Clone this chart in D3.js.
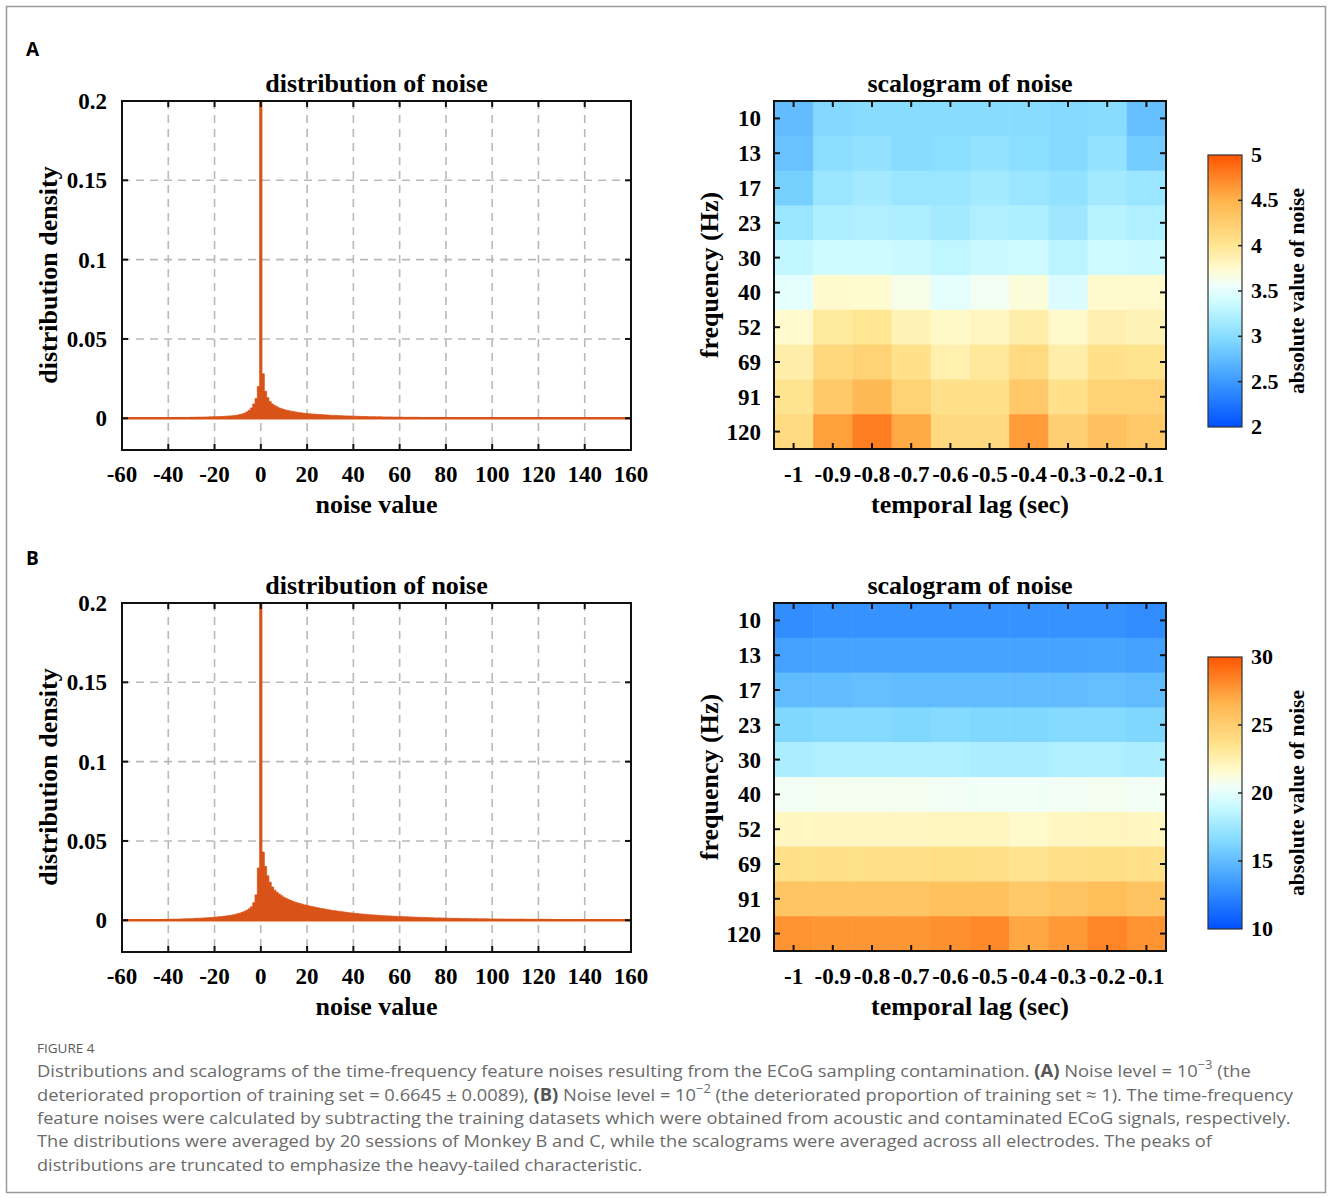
<!DOCTYPE html>
<html>
<head>
<meta charset="utf-8">
<script src="https://cdn.jsdelivr.net/npm/d3@7/dist/d3.min.js"></script>
<style>
body{margin:0;background:#fff;}
.serif{font-family:"Liberation Serif","Times New Roman",serif;font-weight:bold;fill:#000;}
</style>
</head>
<body>
<svg id="fig" width="1328" height="1198"></svg>
<script>
// histogram bins, width 1, centred on integers -60 .. 160
var binStart = -60;
var densityA = [
0.0002,0.0002,0.0002,0.0002,0.0002,0.0002,0.0002,0.0002,0.0002,0.0002,
0.0002,0.0002,0.0003,0.0003,0.0003,0.0003,0.0003,0.0003,0.0003,0.0003,
0.0004,0.0004,0.0004,0.0004,0.0004,0.0005,0.0005,0.0005,0.0005,0.0005,
0.0006,0.0006,0.0006,0.0007,0.0007,0.0007,0.0008,0.0008,0.0009,0.0009,
0.0010,0.0010,0.0011,0.0011,0.0012,0.0013,0.0014,0.0015,0.0016,0.0018,
0.0020,0.0023,0.0027,0.0032,0.0040,0.0050,0.0065,0.0090,0.0125,0.0200,
0.2000,
0.0280,0.0170,0.0130,0.0105,0.0090,0.0080,0.0072,0.0065,0.0060,0.0055,
0.0051,0.0048,0.0045,0.0042,0.0040,0.0037,0.0035,0.0033,0.0031,0.0030,
0.0028,0.0027,0.0026,0.0025,0.0024,0.0023,0.0022,0.0021,0.0020,0.0019,
0.0018,0.0018,0.0017,0.0016,0.0016,0.0015,0.0015,0.0014,0.0014,0.0013,
0.0013,0.0012,0.0012,0.0011,0.0011,0.0011,0.0010,0.0010,0.0010,0.0009,
0.0009,0.0009,0.0008,0.0008,0.0008,0.0008,0.0007,0.0007,0.0007,0.0007,
0.0007,0.0006,0.0006,0.0006,0.0006,0.0006,0.0006,0.0006,0.0005,0.0005,
0.0005,0.0005,0.0005,0.0005,0.0005,0.0005,0.0005,0.0005,0.0005,0.0005,
0.0005,0.0005,0.0004,0.0004,0.0004,0.0004,0.0004,0.0004,0.0004,0.0004,
0.0004,0.0004,0.0004,0.0004,0.0004,0.0004,0.0004,0.0004,0.0004,0.0004,
0.0004,0.0004,0.0004,0.0004,0.0004,0.0003,0.0003,0.0003,0.0003,0.0003,
0.0003,0.0003,0.0003,0.0003,0.0003,0.0003,0.0003,0.0003,0.0003,0.0003,
0.0003,0.0003,0.0003,0.0003,0.0003,0.0003,0.0003,0.0003,0.0003,0.0003,
0.0003,0.0003,0.0003,0.0003,0.0003,0.0002,0.0002,0.0002,0.0002,0.0002,
0.0002,0.0002,0.0002,0.0002,0.0002,0.0002,0.0002,0.0002,0.0002,0.0002,
0.0002,0.0002,0.0002,0.0002,0.0002,0.0002,0.0002,0.0002,0.0002,0.0002
];
var densityB = [
0.0002,0.0002,0.0002,0.0002,0.0002,0.0003,0.0003,0.0003,0.0003,0.0003,
0.0003,0.0003,0.0004,0.0004,0.0004,0.0004,0.0005,0.0005,0.0005,0.0006,
0.0006,0.0006,0.0007,0.0007,0.0007,0.0008,0.0008,0.0009,0.0009,0.0010,
0.0010,0.0011,0.0012,0.0012,0.0013,0.0014,0.0015,0.0016,0.0017,0.0018,
0.0019,0.0020,0.0022,0.0023,0.0025,0.0027,0.0029,0.0031,0.0034,0.0037,
0.0041,0.0045,0.0050,0.0056,0.0063,0.0072,0.0085,0.0110,0.0160,0.0330,
0.2000,
0.0430,0.0340,0.0280,0.0240,0.0210,0.0190,0.0177,0.0165,0.0155,0.0145,
0.0138,0.0131,0.0125,0.0119,0.0114,0.0109,0.0105,0.0101,0.0097,0.0094,
0.0090,0.0087,0.0084,0.0081,0.0078,0.0075,0.0072,0.0070,0.0067,0.0064,
0.0062,0.0060,0.0058,0.0056,0.0054,0.0052,0.0050,0.0048,0.0046,0.0045,
0.0043,0.0042,0.0040,0.0039,0.0038,0.0036,0.0035,0.0034,0.0033,0.0032,
0.0031,0.0030,0.0029,0.0028,0.0027,0.0027,0.0026,0.0025,0.0024,0.0024,
0.0023,0.0022,0.0022,0.0021,0.0020,0.0020,0.0019,0.0019,0.0018,0.0018,
0.0017,0.0017,0.0016,0.0016,0.0015,0.0015,0.0015,0.0014,0.0014,0.0013,
0.0013,0.0013,0.0012,0.0012,0.0012,0.0011,0.0011,0.0011,0.0011,0.0010,
0.0010,0.0010,0.0010,0.0009,0.0009,0.0009,0.0009,0.0009,0.0008,0.0008,
0.0008,0.0008,0.0008,0.0008,0.0008,0.0007,0.0007,0.0007,0.0007,0.0007,
0.0007,0.0007,0.0007,0.0007,0.0006,0.0006,0.0006,0.0006,0.0006,0.0006,
0.0006,0.0006,0.0006,0.0006,0.0006,0.0005,0.0005,0.0005,0.0005,0.0005,
0.0005,0.0005,0.0005,0.0005,0.0005,0.0005,0.0005,0.0005,0.0005,0.0005,
0.0004,0.0004,0.0004,0.0004,0.0004,0.0004,0.0004,0.0004,0.0004,0.0004,
0.0004,0.0004,0.0004,0.0004,0.0004,0.0003,0.0003,0.0003,0.0003,0.0003
];
var histXTicks = [-60,-40,-20,0,20,40,60,80,100,120,140,160];
var histYTicks = [0,0.05,0.1,0.15,0.2];
var histYLabels = ["0","0.05","0.1","0.15","0.2"];

var freqLabels = ["10","13","17","23","30","40","52","69","91","120"];
var lagLabels = ["-1","-0.9","-0.8","-0.7","-0.6","-0.5","-0.4","-0.3","-0.2","-0.1"];

// rows = frequency (10 Hz first), cols = lag (-1 first)
var scaloA = [
[2.75,2.97,3.00,3.00,3.00,3.00,3.00,2.98,3.00,2.78],
[2.80,3.02,3.05,3.00,3.01,3.06,3.01,2.98,3.06,2.88],
[2.90,3.10,3.15,3.10,3.10,3.15,3.10,3.05,3.15,3.10],
[3.10,3.20,3.22,3.20,3.15,3.22,3.20,3.12,3.25,3.22],
[3.32,3.38,3.38,3.36,3.30,3.36,3.37,3.28,3.37,3.36],
[3.50,3.75,3.74,3.65,3.50,3.60,3.70,3.45,3.75,3.75],
[3.75,3.95,4.00,3.85,3.78,3.80,3.90,3.76,3.87,3.85],
[3.90,4.15,4.20,4.05,3.88,3.97,4.12,3.90,4.05,4.02],
[4.02,4.30,4.45,4.20,4.05,4.05,4.30,4.05,4.20,4.20],
[4.12,4.60,4.78,4.55,4.13,4.13,4.63,4.22,4.37,4.30]
];
var scaloB = [
[12.8,13.0,13.0,13.0,13.0,13.0,13.0,13.0,13.0,12.7],
[13.7,13.8,13.8,13.8,13.8,13.8,13.8,13.8,13.9,13.7],
[15.0,15.0,15.1,15.0,15.0,15.0,15.0,15.0,15.1,15.0],
[16.4,16.5,16.5,16.4,16.5,16.4,16.4,16.5,16.5,16.3],
[18.0,18.1,18.2,18.1,18.1,18.0,18.0,18.1,18.1,18.0],
[20.6,20.7,20.7,20.7,20.6,20.5,20.5,20.6,20.7,20.6],
[22.0,22.0,22.0,22.0,22.1,22.1,21.7,22.0,22.1,22.0],
[23.7,23.7,23.7,23.7,23.9,23.8,23.5,23.8,23.9,23.7],
[25.6,25.6,25.6,25.6,25.8,25.8,25.3,25.7,26.0,25.7],
[27.8,27.7,27.7,27.7,27.9,28.2,27.1,27.6,28.3,27.8]
];
var cbarTicksA = [2,2.5,3,3.5,4,4.5,5];
var cbarLabelsA = ["2","2.5","3","3.5","4","4.5","5"];
var cbarTicksB = [10,15,20,25,30];
var cbarLabelsB = ["10","15","20","25","30"];

// colormap blue -> white -> orange
var cmapStops = [0,0.17,0.33,0.45,0.52,0.58,0.67,0.83,1];
var cmapColors = ["#0050ff","#3d9bff","#86dcff","#c8faff","#effffc","#fffbd0","#ffe590","#ffb54e","#ff5500"];

var histColor = "#d95319";
var gridColor = "#b9b9b9";
var tickFont = "23px", labelFont = "26px";

var svg = d3.select("#fig");
svg.append("rect").attr("x",6.5).attr("y",6.5).attr("width",1319).attr("height",1186)
   .attr("fill","#fff").attr("stroke","#9a9a9a").attr("stroke-width",1.5);

function drawHist(dy, density, id){
    var left = 122, right = 631, top = 101 + dy, bottom = 450 + dy;
    var x = d3.scaleLinear().domain([-60,160]).range([left,right]);
    var y = d3.scaleLinear().domain([-0.02,0.2]).range([bottom,top]);
    var g = svg.append("g");

    g.append("clipPath").attr("id",id).append("rect")
        .attr("x",left).attr("y",top).attr("width",right-left).attr("height",bottom-top);

    // dashed grid
    g.selectAll(".vg").data(histXTicks.slice(1,-1)).enter().append("line")
        .attr("x1",function(d){return x(d);}).attr("x2",function(d){return x(d);})
        .attr("y1",top).attr("y2",bottom)
        .attr("stroke",gridColor).attr("stroke-width",1.6).attr("stroke-dasharray","8,6");
    g.selectAll(".hg").data(histYTicks.slice(0,-1)).enter().append("line")
        .attr("x1",left).attr("x2",right)
        .attr("y1",function(d){return y(d);}).attr("y2",function(d){return y(d);})
        .attr("stroke",gridColor).attr("stroke-width",1.6).attr("stroke-dasharray","8,6");

    var pts = density.map(function(v,i){ return {e: binStart + i - 0.5, v: v}; });
    pts.push({e: binStart + density.length - 0.5, v: density[density.length-1]});
    var area = d3.area().curve(d3.curveStepAfter)
        .x(function(d){return x(d.e);}).y0(y(0)).y1(function(d){return y(d.v);});
    g.append("path").datum(pts).attr("d",area).attr("fill",histColor)
        .attr("stroke",histColor).attr("stroke-width",0.8)
        .attr("clip-path","url(#"+id+")");
    g.append("line").attr("x1",left).attr("x2",right).attr("y1",y(0)).attr("y2",y(0))
        .attr("stroke",histColor).attr("stroke-width",2.5);

    // box + inward ticks
    g.append("rect").attr("x",left).attr("y",top).attr("width",right-left).attr("height",bottom-top)
        .attr("fill","none").attr("stroke","#111").attr("stroke-width",2);
    histXTicks.forEach(function(t){
        g.append("line").attr("x1",x(t)).attr("x2",x(t)).attr("y1",top).attr("y2",top+6).attr("stroke","#111").attr("stroke-width",2);
        g.append("line").attr("x1",x(t)).attr("x2",x(t)).attr("y1",bottom).attr("y2",bottom-6).attr("stroke","#111").attr("stroke-width",2);
    });
    histYTicks.forEach(function(t){
        g.append("line").attr("x1",left).attr("x2",left+6).attr("y1",y(t)).attr("y2",y(t)).attr("stroke","#111").attr("stroke-width",2);
        g.append("line").attr("x1",right).attr("x2",right-6).attr("y1",y(t)).attr("y2",y(t)).attr("stroke","#111").attr("stroke-width",2);
    });

    g.selectAll(".xl").data(histXTicks).enter().append("text").attr("class","serif")
        .attr("x",function(d){return x(d);}).attr("y",bottom+32).attr("text-anchor","middle")
        .style("font-size",tickFont).text(function(d){return d;});
    g.selectAll(".yl").data(histYTicks).enter().append("text").attr("class","serif")
        .attr("x",107).attr("y",function(d){return y(d)+8;}).attr("text-anchor","end")
        .style("font-size",tickFont).text(function(d,i){return histYLabels[i];});

    g.append("text").attr("class","serif").attr("x",(left+right)/2).attr("y",top-9)
        .attr("text-anchor","middle").style("font-size",labelFont).text("distribution of noise");
    g.append("text").attr("class","serif").attr("x",(left+right)/2).attr("y",bottom+63)
        .attr("text-anchor","middle").style("font-size",labelFont).text("noise value");
    g.append("text").attr("class","serif").attr("transform","translate(57,"+(275+dy)+") rotate(-90)")
        .attr("text-anchor","middle").style("font-size",labelFont).text("distribution density");
}

function drawScalogram(dy, values, domain, ticks, tickLabels){
    var left = 774, right = 1166, top = 101 + dy, bottom = 449 + dy;
    var x = d3.scaleBand().domain(lagLabels).range([left,right]);
    var y = d3.scaleBand().domain(freqLabels).range([top,bottom]);
    var color = d3.scaleLinear()
        .domain(cmapStops.map(function(s){return domain[0] + s*(domain[1]-domain[0]);}))
        .range(cmapColors).interpolate(d3.interpolateRgb).clamp(true);
    var g = svg.append("g");

    var cells = [];
    values.forEach(function(row,r){
        row.forEach(function(v,c){ cells.push({f: freqLabels[r], l: lagLabels[c], v: v}); });
    });
    g.selectAll(".cell").data(cells).enter().append("rect")
        .attr("x",function(d){return x(d.l);}).attr("y",function(d){return y(d.f);})
        .attr("width",x.bandwidth()+0.5).attr("height",y.bandwidth()+0.5)
        .attr("fill",function(d){return color(d.v);});

    g.append("rect").attr("x",left).attr("y",top).attr("width",right-left).attr("height",bottom-top)
        .attr("fill","none").attr("stroke","#111").attr("stroke-width",2);
    lagLabels.forEach(function(l){
        var cx = x(l) + x.bandwidth()/2;
        g.append("line").attr("x1",cx).attr("x2",cx).attr("y1",top).attr("y2",top+6).attr("stroke","#111").attr("stroke-width",2);
        g.append("line").attr("x1",cx).attr("x2",cx).attr("y1",bottom).attr("y2",bottom-6).attr("stroke","#111").attr("stroke-width",2);
    });
    freqLabels.forEach(function(f){
        var cy = y(f) + y.bandwidth()/2;
        g.append("line").attr("x1",left).attr("x2",left+6).attr("y1",cy).attr("y2",cy).attr("stroke","#111").attr("stroke-width",2);
        g.append("line").attr("x1",right).attr("x2",right-6).attr("y1",cy).attr("y2",cy).attr("stroke","#111").attr("stroke-width",2);
    });

    g.selectAll(".xl").data(lagLabels).enter().append("text").attr("class","serif")
        .attr("x",function(d){return x(d)+x.bandwidth()/2;}).attr("y",bottom+33).attr("text-anchor","middle")
        .style("font-size",tickFont).text(function(d){return d;});
    g.selectAll(".yl").data(freqLabels).enter().append("text").attr("class","serif")
        .attr("x",761).attr("y",function(d){return y(d)+y.bandwidth()/2+8;}).attr("text-anchor","end")
        .style("font-size",tickFont).text(function(d){return d;});

    g.append("text").attr("class","serif").attr("x",(left+right)/2).attr("y",top-9)
        .attr("text-anchor","middle").style("font-size",labelFont).text("scalogram of noise");
    g.append("text").attr("class","serif").attr("x",(left+right)/2).attr("y",bottom+64)
        .attr("text-anchor","middle").style("font-size",labelFont).text("temporal lag (sec)");
    g.append("text").attr("class","serif").attr("transform","translate(718,"+(275+dy)+") rotate(-90)")
        .attr("text-anchor","middle").style("font-size",labelFont).text("frequency (Hz)");

    // colorbar
    var cb = {left:1208, right:1242, top:155+dy, bottom:427+dy};
    var cy = d3.scaleLinear().domain(domain).range([cb.bottom,cb.top]);
    var gid = "grad" + dy;
    var grad = svg.append("defs").append("linearGradient").attr("id",gid)
        .attr("x1",0).attr("y1",1).attr("x2",0).attr("y2",0);
    grad.selectAll("stop").data(cmapStops).enter().append("stop")
        .attr("offset",function(d){return d;}).attr("stop-color",function(d,i){return cmapColors[i];});
    g.append("rect").attr("x",cb.left).attr("y",cb.top).attr("width",cb.right-cb.left).attr("height",cb.bottom-cb.top)
        .attr("fill","url(#"+gid+")").attr("stroke","#333").attr("stroke-width",1.2);
    ticks.slice(1,-1).forEach(function(t){
        g.append("line").attr("x1",cb.right).attr("x2",cb.right-4).attr("y1",cy(t)).attr("y2",cy(t)).attr("stroke","#222").attr("stroke-width",1.5);
    });
    g.selectAll(".cl").data(ticks).enter().append("text").attr("class","serif")
        .attr("x",1251).attr("y",function(d){return cy(d)+7;})
        .style("font-size","22px").text(function(d,i){return tickLabels[i];});
    g.append("text").attr("class","serif").attr("transform","translate(1304,"+(291+dy)+") rotate(-90)")
        .attr("text-anchor","middle").style("font-size","21.5px").text("absolute value of noise");
}

// panel letters
svg.append("text").attr("x",26).attr("y",56).style("font-family","'Open Sans','Noto Sans',sans-serif")
    .style("font-weight","bold").style("font-size","19px").text("A");
svg.append("text").attr("x",26).attr("y",565).style("font-family","'Open Sans','Noto Sans',sans-serif")
    .style("font-weight","bold").style("font-size","19px").text("B");

drawHist(0, densityA, "clipA");
drawScalogram(0, scaloA, [2,5], cbarTicksA, cbarLabelsA);
drawHist(502, densityB, "clipB");
drawScalogram(502, scaloB, [10,30], cbarTicksB, cbarLabelsB);

// caption
var capFont = "'Open Sans','Noto Sans',sans-serif";
svg.append("text").attr("x",37).attr("y",1053).style("font-family",capFont)
    .style("font-size","13.5px").style("fill","#5a5a5a").text("FIGURE 4");

var capLines = [
  [["Distributions and scalograms of the time-frequency feature noises resulting from the ECoG sampling contamination. ",""],["(A)","b"],[" Noise level = 10",""],["\u22123","s"],[" (the",""]],
  [["deteriorated proportion of training set = 0.6645 \u00b1 0.0089), ",""],["(B)","b"],[" Noise level = 10",""],["\u22122","s"],[" (the deteriorated proportion of training set \u2248 1). The time-frequency",""]],
  [["feature noises were calculated by subtracting the training datasets which were obtained from acoustic and contaminated ECoG signals, respectively.",""]],
  [["The distributions were averaged by 20 sessions of Monkey B and C, while the scalograms were averaged across all electrodes. The peaks of",""]],
  [["distributions are truncated to emphasize the heavy-tailed characteristic.",""]]
];
var capWidths = [1215, 1258, 1255, 1177, 606];
var capY = [1077, 1101, 1124, 1147, 1171];

capLines.forEach(function(parts,i){
    var t = svg.append("text").attr("x",0).attr("y",0).style("font-family",capFont)
        .style("font-size","17px").style("fill","#6a6a6a");
    parts.forEach(function(p){
        var ts = t.append("tspan").text(p[0]);
        if(p[1]=="b") ts.style("font-weight","bold").style("fill","#555");
        if(p[1]=="s") ts.attr("baseline-shift","super").style("font-size","12px");
    });
    var w = t.node().getBBox().width;
    t.attr("transform","translate(37,"+capY[i]+") scale("+(capWidths[i]/w)+",1)");
});
</script>
</body>
</html>
